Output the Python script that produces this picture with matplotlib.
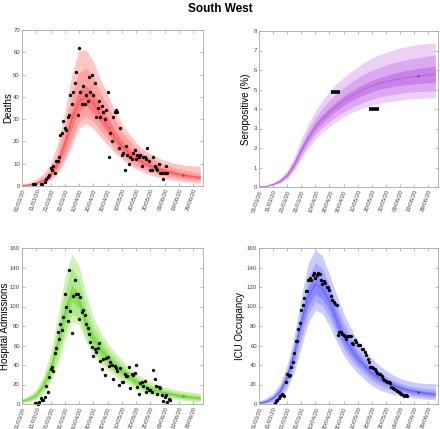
import numpy as np
import matplotlib
matplotlib.use('Agg')
import matplotlib.pyplot as plt

plt.rcParams['font.family'] = ['Liberation Sans', 'DejaVu Sans']

# x axis: days since 01/03/20
tick_days = list(range(0, 121, 10))
tick_labels = ['01/03/20', '11/03/20', '21/03/20', '31/03/20', '10/04/20', '20/04/20',
               '30/04/20', '10/05/20', '20/05/20', '30/05/20', '09/06/20', '19/06/20', '29/06/20']
model_days = list(range(0, 126, 5))
latest_day = 113

# Deaths
deaths_start = 8
deaths = [1, 1, np.nan, np.nan, np.nan, 1, 1, np.nan, 2, 3,
          4, 5, 8, 7, 9, 6, 11, 11, 13, 23,
          24, 29, 26, 25, 31, 32, 41, 37, 42, 46,
          51, 32, 62, 42, 37, 45, 37, 41, 38, 49,
          42, 50, 41, 46, 31, 35, 38, 31, 36, 33,
          30, 34, 42, 13, 24, 20, 31, 33, 34, 33,
          17, 26, 14, 15, 7, 18, 14, 10, 13, 12,
          15, 16, 12, 14, 13, 14, 9, 13, 13, 12,
          17, 11, 7, 7, 13, 9, 8, 7, 10, 6, 6, 3, 6, 9, 6]
deaths_med = [0.2, 0.5, 1.2, 2.5, 5, 10, 19, 30, 38, 40, 37, 32, 27, 22, 18, 15, 12.5, 10.5, 9, 7.8, 6.8, 6, 5.3, 4.7, 4.2, 3.8]
deaths_in_lo = [0.1, 0.4, 1.0, 2.1, 4.2, 8.5, 16, 26, 34, 36, 33, 28, 24, 19.5, 16, 13, 11, 9.2, 7.9, 6.8, 5.9, 5.2, 4.6, 4.0, 3.6, 3.2]
deaths_in_hi = [0.3, 0.7, 1.5, 3.0, 6, 12, 22, 34, 43, 45, 42, 36, 31, 25, 20.5, 17, 14.2, 12, 10.3, 9, 7.8, 7, 6.2, 5.5, 5, 4.5]
deaths_mid_lo = [0, 0.2, 0.7, 1.6, 3.3, 7, 13, 21, 29, 31, 29, 25, 21, 17, 13.5, 11, 9.2, 7.6, 6.5, 5.5, 4.7, 4.1, 3.6, 3.1, 2.7, 2.4]
deaths_mid_hi = [0.5, 1.0, 2.1, 4.0, 7.5, 15, 27, 41, 51, 53, 49, 42, 36, 30, 24.5, 20.5, 17, 14.5, 12.5, 11, 9.7, 8.7, 7.8, 7.0, 6.4, 5.9]
deaths_out_lo = [0, 0.1, 0.5, 1.2, 2.5, 5.5, 11, 18, 26, 28, 26, 22, 18.5, 15, 12, 9.6, 7.6, 6.2, 5.0, 4.0, 3.2, 2.7, 2.3, 1.9, 1.6, 1.4]
deaths_out_hi = [0.8, 1.5, 3.0, 5.5, 10, 19, 33, 50, 61, 61, 56, 48, 41, 34, 28, 23.5, 19.5, 16.5, 14.5, 12.8, 11.5, 10.5, 9.8, 9.3, 9.0, 8.8]
deaths_latest = 5

# Seropositive (%)
sero_med = [0, 0.04, 0.14, 0.3, 0.6, 1.15, 1.9, 2.55, 3.1, 3.5, 3.85, 4.15, 4.42, 4.65, 4.85, 5.03, 5.18, 5.3, 5.4, 5.48, 5.55, 5.61, 5.66, 5.71, 5.75, 5.78]
sero_in_lo = [0, 0.035, 0.13, 0.27, 0.55, 1.05, 1.78, 2.4, 2.92, 3.3, 3.63, 3.92, 4.18, 4.4, 4.58, 4.75, 4.88, 5.0, 5.08, 5.15, 5.2, 5.25, 5.29, 5.32, 5.35, 5.37]
sero_in_hi = [0, 0.045, 0.15, 0.33, 0.65, 1.25, 2.02, 2.7, 3.28, 3.7, 4.07, 4.38, 4.66, 4.9, 5.12, 5.3, 5.46, 5.6, 5.72, 5.82, 5.9, 5.98, 6.05, 6.1, 6.15, 6.2]
sero_mid_lo = [0, 0.03, 0.11, 0.24, 0.48, 0.95, 1.6, 2.2, 2.7, 3.05, 3.35, 3.62, 3.85, 4.05, 4.22, 4.37, 4.5, 4.6, 4.68, 4.75, 4.8, 4.85, 4.88, 4.9, 4.92, 4.93]
sero_mid_hi = [0, 0.05, 0.17, 0.38, 0.73, 1.38, 2.2, 2.95, 3.55, 4.05, 4.45, 4.8, 5.1, 5.35, 5.6, 5.8, 5.98, 6.12, 6.25, 6.36, 6.45, 6.53, 6.6, 6.66, 6.72, 6.78]
sero_out_lo = [0, 0.02, 0.09, 0.2, 0.4, 0.85, 1.45, 2.0, 2.45, 2.8, 3.1, 3.35, 3.6, 3.8, 3.95, 4.08, 4.2, 4.28, 4.35, 4.4, 4.45, 4.5, 4.53, 4.55, 4.57, 4.58]
sero_out_hi = [0, 0.06, 0.2, 0.45, 0.85, 1.55, 2.45, 3.25, 3.9, 4.45, 4.9, 5.3, 5.6, 5.9, 6.15, 6.4, 6.6, 6.77, 6.9, 7.02, 7.12, 7.2, 7.27, 7.32, 7.36, 7.38]
sero_obs = [4.87, 4.02]
sero_obs_from = [51, 78]
sero_obs_to = [57.5, 85]
sero_latest = 5.69

# Hospital admissions
hosp_start = 9
hosp = [1, 1, 0, 2, 6, 4, 4, 7, 18, 12,
        28, 36, 38, 34, 52, 57, 74, 67, 82, 76,
        89, 113, 99, 85, 137, 95, 73, 111, 127, 113,
        113, 87, 110, 94, 96, 91, 82, 78, 72,
        64, 58, 49, 56, 53, 57, 63, 44, 36, 46,
        30, 47, 48, 39, 43, 40, 26, 39, 37, 34,
        19, 37, 23, 23, 31, 29, 29, 38, 16, 31,
        30, 32, 40, 17, 10, 22, 23, 18, 24,
        12, 16, 14, 14, 12, 35, 26, 18, 10, 17,
        16, 9, 3, 7, 9, 2, 5, 4]
hosp_med = [3, 5, 9, 19, 36, 62, 92, 114, 106, 82, 67, 56, 48, 40, 34, 28.5, 23, 19, 16, 13.5, 11.5, 10, 8.7, 7.6, 6.7, 6]
hosp_in_lo = [2.6, 4.4, 8, 17, 32, 56, 83, 105, 98, 75, 61, 50, 42.5, 35.5, 30, 25, 20, 16.5, 13.8, 11.6, 9.8, 8.4, 7.2, 6.3, 5.5, 4.8]
hosp_in_hi = [3.4, 5.6, 10, 21, 40, 68, 101, 122, 114, 89, 73, 61, 52, 44, 38, 32, 26, 21.5, 18, 15.3, 13.2, 11.5, 10.1, 9, 8, 7.2]
hosp_mid_lo = [1.8, 3.2, 6, 13.5, 27, 47, 73, 92, 88, 68, 55, 45, 38, 32, 27, 23, 18, 14.5, 12, 10, 8.3, 7, 6, 5, 4.3, 3.6]
hosp_mid_hi = [4.5, 7.5, 12.5, 25, 45, 77, 115, 140, 128, 100, 80, 67, 57, 48, 41, 34, 28, 23.5, 20, 17, 15, 13.2, 11.8, 10.7, 9.8, 9]
hosp_out_lo = [1, 2.5, 5, 11, 22, 40, 65, 84, 82, 63, 50, 41, 35, 29, 24, 20, 15, 12, 10, 8, 6.5, 5.5, 4.5, 3.5, 2.8, 2.2]
hosp_out_hi = [6, 9, 15, 29, 52, 88, 130, 153, 142, 113, 89, 74, 63, 53, 45, 38, 32, 27, 23, 20, 17.5, 15.5, 14, 12.8, 11.8, 11]
hosp_latest = 8

# ICU occupancy
icu_start = 11
icu = [1, 3, 4, 6, 8, 10, 9, 8, 23, 31,
       29, 30, 38, 43, 52, 65, 65, 77, 83, 96,
       102, 109, 116, 116, 127, 129, 127, 132, 134, 129,
       132, 134, 133, 127, 123, 126, 124, 120, 120, 117,
       111, 107, 105, 103, 102, 71, 74, 74, 72, 71,
       70, 67, 70, 70, 70, 63, 62, 66, 64, 61,
       61, 61, 56, 56, 53, 50, 46, 43, 38, 38,
       37, 36, 34, 32, 31, 31, 29, 26, 25, 24,
       23, 23, 22, 17, 16, 15, 14, 13, 12, 11,
       10, 9, 8, 9, 8]
icu_med = [1, 2.5, 6, 13, 28, 52, 84, 110, 123, 118, 105, 86, 69, 57, 47, 39, 32, 27, 23, 19.5, 16.5, 14.5, 13, 11.8, 10.8, 10]
icu_in_lo = [0.6, 1.8, 5, 11, 25, 47, 77, 101, 113, 108, 96, 78, 62, 51, 42, 34.5, 28, 23.5, 20, 17, 14.2, 12.4, 11, 9.9, 9, 8.2]
icu_in_hi = [1.5, 3.2, 7, 15, 31, 57, 91, 120, 134, 128, 114, 94, 76, 63, 52, 43.5, 36, 30.5, 26, 22, 18.8, 16.6, 15, 13.7, 12.6, 11.8]
icu_mid_lo = [0.3, 1.2, 3.5, 8.5, 20, 40, 68, 93, 105, 101, 89, 72, 57, 46, 37.5, 30.5, 24.5, 20, 16.5, 14, 11.5, 10, 8.8, 7.8, 7, 6.4]
icu_mid_hi = [2, 4.5, 9, 18, 35, 62, 98, 130, 145, 139, 122, 102, 83, 69, 57, 47.5, 40, 33.5, 28.5, 24.5, 21.5, 19, 17.5, 16.5, 15.5, 15]
icu_out_lo = [0, 0.5, 2, 6, 15, 33, 58, 84, 96, 93, 80, 64, 50, 40, 32, 25, 19, 15, 12, 10, 8.5, 7.2, 6.2, 5.4, 4.8, 4.3]
icu_out_hi = [3, 6, 11, 21, 40, 70, 110, 145, 158, 152, 133, 112, 93, 78, 65, 55, 47, 40, 34.5, 30, 26.5, 24, 22.5, 21.5, 21, 21]
icu_latest = 12


def draw_panel(ax, bands, med, colors, ylabel, ymax, ystep, label_x):
    # bands go outer -> inner, drawn on top of each other
    for (lo, hi), c in zip(bands, colors[:3]):
        ax.fill_between(model_days, lo, hi, color=c, lw=0)
    ax.plot(model_days, med, color=colors[3], lw=0.6)
    ax.set_xlim(0, 127)
    ax.set_ylim(0, ymax)
    ax.set_xticks(tick_days)
    ax.set_xticklabels(tick_labels, rotation=70, ha='right', rotation_mode='anchor')
    ax.set_yticks(np.arange(0, ymax + 0.001, ystep))
    ax.tick_params(direction='in', length=2, width=0.4, top=True, right=True,
                   labelsize=4.3, labelcolor='#444444', color='#888888', pad=1.5)
    for s in ax.spines.values():
        s.set_color('#a8a8a8')
        s.set_linewidth(0.6)
    ax.set_ylabel(ylabel, fontsize=7)
    ax.yaxis.set_label_coords(label_x, 0.5)


fig = plt.figure(figsize=(4.4, 4.29), dpi=100)
fig.text(0.5, 1 - 9 / 429, 'South West', ha='center', va='center', fontsize=8.5, fontweight='bold')

ax1 = fig.add_axes([22 / 440, 1 - 186 / 429, 181 / 440, 156 / 429])
ax2 = fig.add_axes([259 / 440, 1 - 187 / 429, 179 / 440, 156 / 429])
ax3 = fig.add_axes([22 / 440, 1 - 404 / 429, 181 / 440, 156 / 429])
ax4 = fig.add_axes([259 / 440, 1 - 404 / 429, 179 / 440, 156 / 429])

red = ['#ffc6c6', '#ffa2a2', '#ff7a7a', '#ff4a4a']
purple = ['#ecd0f6', '#dba9ef', '#c883e6', '#b45ade']
green = ['#cff3b2', '#b0e98a', '#8fdd60', '#6acd36']
blue = ['#cbcbff', '#a9a9ff', '#8787ff', '#5a5aff']

draw_panel(ax1, [(deaths_out_lo, deaths_out_hi), (deaths_mid_lo, deaths_mid_hi), (deaths_in_lo, deaths_in_hi)],
           deaths_med, red, 'Deaths', 70, 10, -0.05)
ax1.plot(np.arange(len(deaths)) + deaths_start, deaths, 'o', color='black', ms=2.4, mew=0)
ax1.plot([latest_day], [deaths_latest], 'o', color='#e02020', ms=1.8, mew=0)

draw_panel(ax2, [(sero_out_lo, sero_out_hi), (sero_mid_lo, sero_mid_hi), (sero_in_lo, sero_in_hi)],
           sero_med, purple, 'Seropositive (%)', 8, 1, -0.042)
ax2.hlines(sero_obs, sero_obs_from, sero_obs_to, color='black', lw=2.6)
ax2.plot([latest_day], [sero_latest], 'o', color='#9a30c8', ms=1.8, mew=0)

draw_panel(ax3, [(hosp_out_lo, hosp_out_hi), (hosp_mid_lo, hosp_mid_hi), (hosp_in_lo, hosp_in_hi)],
           hosp_med, green, 'Hospital Admissions', 160, 20, -0.065)
ax3.plot(np.arange(len(hosp)) + hosp_start, hosp, 'o', color='black', ms=2.4, mew=0, clip_on=False)
ax3.plot([latest_day], [hosp_latest], 'o', color='#40b020', ms=1.8, mew=0)

draw_panel(ax4, [(icu_out_lo, icu_out_hi), (icu_mid_lo, icu_mid_hi), (icu_in_lo, icu_in_hi)],
           icu_med, blue, 'ICU Occupancy', 160, 20, -0.078)
ax4.plot(np.arange(len(icu)) + icu_start, icu, 'o', color='black', ms=2.4, mew=0)
ax4.plot([latest_day], [icu_latest], 'o', color='#3030e0', ms=1.8, mew=0)

fig.savefig('out.png', dpi=100)
